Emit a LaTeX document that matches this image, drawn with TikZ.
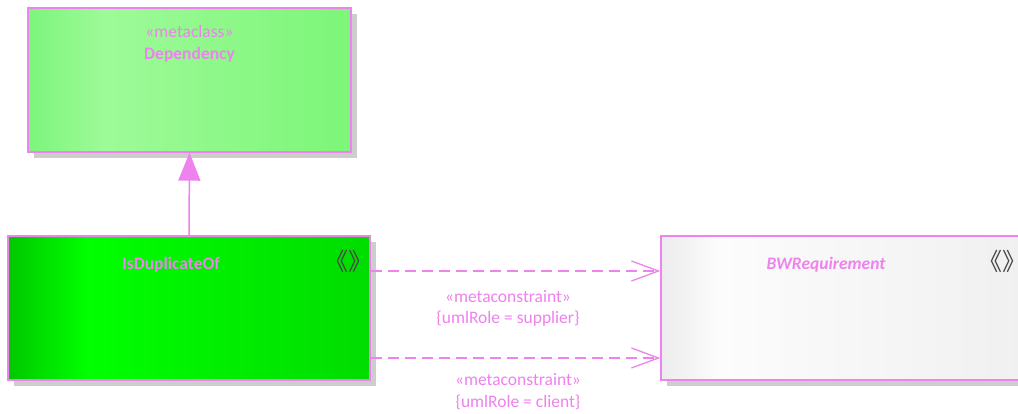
\documentclass[tikz,border=0pt]{standalone}
\usepackage{fontspec}
\setmainfont{Carlito}
\newfontfamily\cjkfont{Noto Sans CJK SC}
\usetikzlibrary{arrows.meta,shadows}
\definecolor{pinkline}{RGB}{238,130,238}
\definecolor{iconcol}{RGB}{70,70,70}
\definecolor{shadowcol}{RGB}{205,205,205}
\definecolor{dA}{RGB}{0,200,0}
\definecolor{dB}{RGB}{0,255,0}
\definecolor{dC}{RGB}{0,220,0}
\definecolor{gA}{RGB}{124,245,124}
\definecolor{gB}{RGB}{158,250,152}
\definecolor{gC}{RGB}{124,246,120}
\definecolor{wA}{RGB}{236,236,236}
\definecolor{wB}{RGB}{252,252,252}
\definecolor{wC}{RGB}{240,240,240}
\pgfdeclarehorizontalshading{gshade}{100bp}{color(0bp)=(gA); color(25bp)=(gA); color(37bp)=(gB); color(75bp)=(gC); color(100bp)=(gC)}
\pgfdeclarehorizontalshading{dshade}{100bp}{color(0bp)=(dA); color(25bp)=(dA); color(36bp)=(dB); color(75bp)=(dC); color(100bp)=(dC)}
\pgfdeclarehorizontalshading{wshade}{100bp}{color(0bp)=(wA); color(25bp)=(wA); color(33bp)=(wB); color(75bp)=(wC); color(100bp)=(wC)}
\newcommand{\stereoicon}{\makebox[26pt]{\hss 《》\hss}}
\tikzset{
  classbox/.style={draw=pinkline, line width=1.4pt, minimum height=144pt, inner sep=0pt,
    general shadow={shadow xshift=6pt, shadow yshift=-6pt, fill=shadowcol}},
  txt/.style={text=pinkline, font=\fontsize{17.5}{20}\selectfont, inner sep=0pt},
  icon/.style={text=iconcol, font=\cjkfont\fontsize{24}{26}\selectfont, inner sep=0pt},
  depline/.style={draw=pinkline, line width=1.3pt, dash pattern=on 11pt off 6pt,
    -{Straight Barb[length=27pt,width=20pt,line width=1.3pt,sep=0pt]}},
  genline/.style={draw=pinkline, line width=1.5pt, -{Triangle[length=28pt,width=22pt,fill=pinkline]}}
}
\begin{document}
\begin{tikzpicture}[x=1pt,y=-1pt]
\clip (0,0) rectangle (1018,414);
\fill[white] (0,0) rectangle (1018,414);
\node[classbox, shade, shading=gshade, minimum width=323pt] (dep) at (189.5,80) {};
\node[classbox, shade, shading=dshade, minimum width=362pt] (dup) at (189,308) {};
\node[classbox, shade, shading=wshade, minimum width=364pt] (bw) at (843,308) {};
\node[txt] (depst) at (189.5,31) {«metaclass»};
\node[txt, font=\fontsize{17.5}{20}\selectfont\bfseries] (depname) at (189.5,55) {Dependency};
\node[txt, font=\fontsize{17.5}{20}\selectfont\bfseries] (dupname) at (171,265) {IsDuplicateOf};
\node[icon] (dupicon) at (348,261) {\stereoicon};
\node[txt, font=\fontsize{17.5}{20}\selectfont\bfseries\itshape] (bwname) at (826,265) {BWRequirement};
\node[icon] (bwicon) at (1002,261) {\stereoicon};
\coordinate (r1) at (0,271);
\coordinate (r2) at (0,358);
\draw[genline] (dup.north) -- (dep.south);
\draw[depline] (dup.east |- r1) -- (bw.west |- r1);
\draw[depline] (dup.east |- r2) -- (bw.west |- r2);
\node[txt] (l1a) at (508,297) {«metaconstraint»};
\node[txt] (l1b) at (508,319) {\{umlRole = supplier\}};
\node[txt] (l2a) at (518,380) {«metaconstraint»};
\node[txt] (l2b) at (518,402) {\{umlRole = client\}};
\end{tikzpicture}
\end{document}
